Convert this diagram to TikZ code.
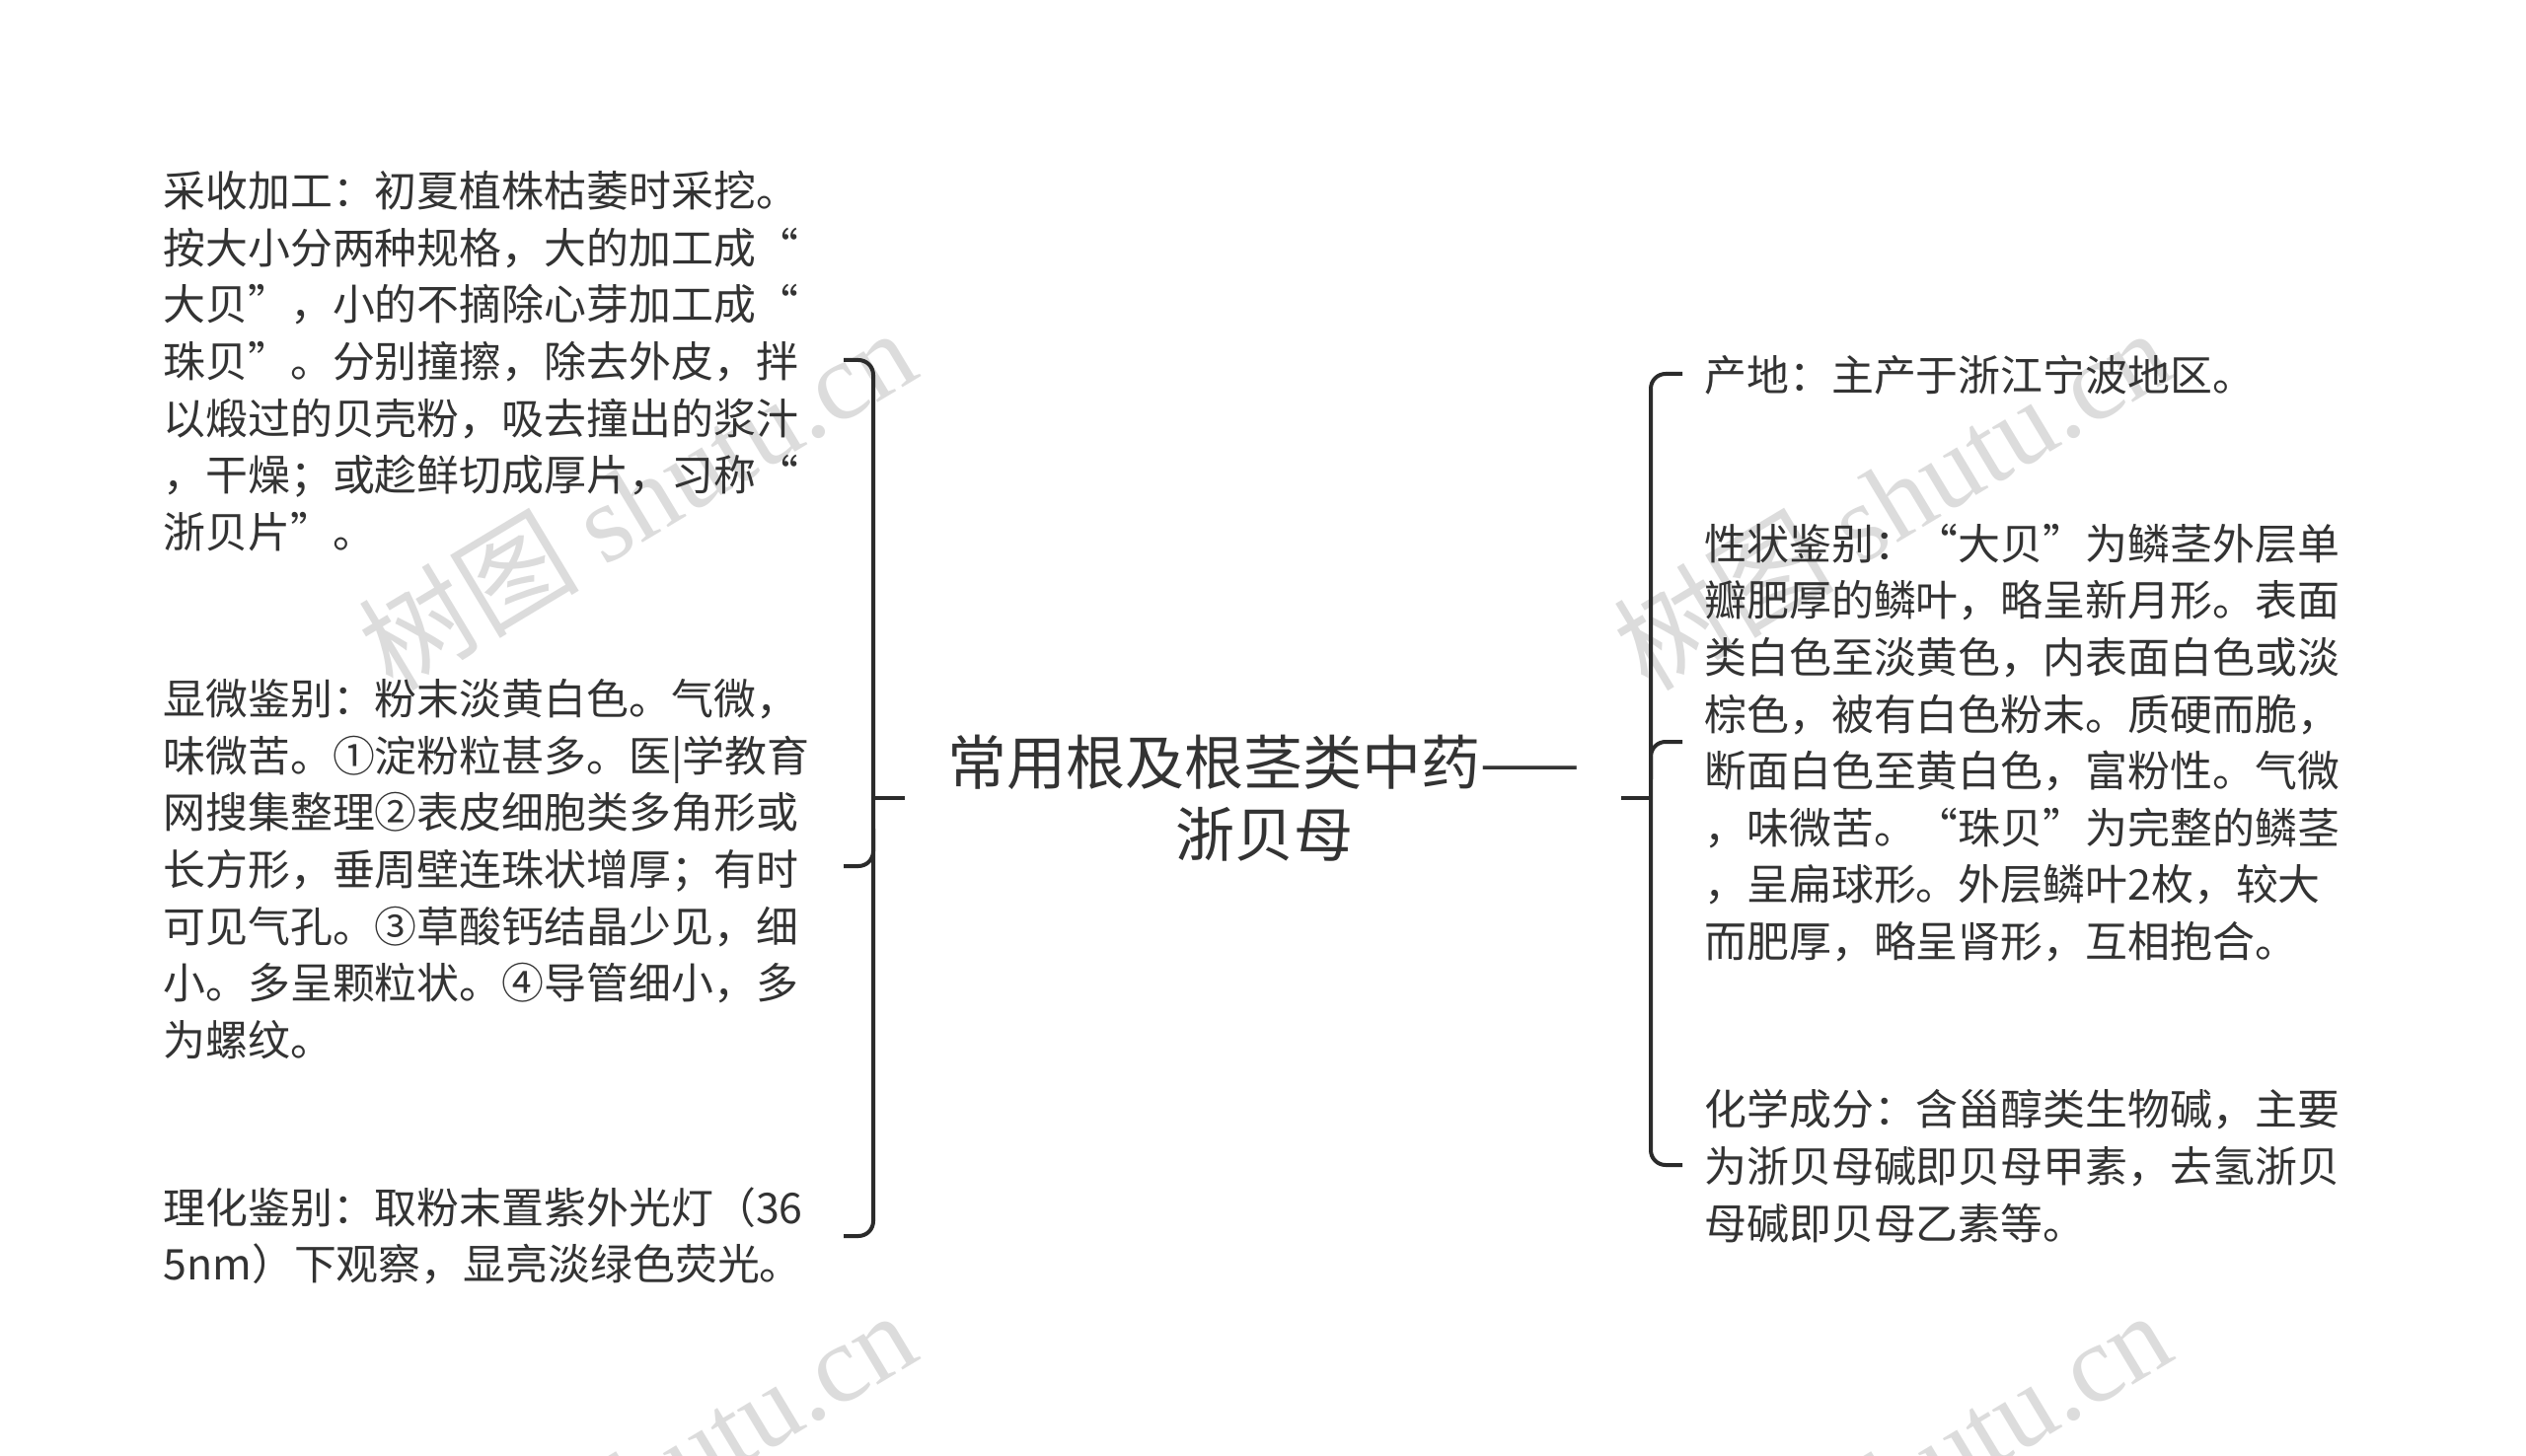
\documentclass[tikz,border=0pt]{standalone}
\usepackage{fontspec}
\setmainfont{Noto Sans CJK SC}
\newfontfamily\wmfont{Liberation Serif}
\newfontfamily\wmcjk{Noto Sans CJK SC}
\definecolor{txt}{HTML}{333333}
\definecolor{brc}{HTML}{2B2B2B}
\definecolor{wmc}{HTML}{DCDCDC}
\begin{document}
\begin{tikzpicture}[x=0.5pt,y=-0.5pt,
  tx/.style={anchor=west,inner sep=0pt,align=left,text=txt,font=\fontsize{21.45pt}{28.8pt}\selectfont},
  ttl/.style={inner sep=0pt,align=center,text=txt,font=\fontsize{30pt}{36.8pt}\selectfont},
  br/.style={draw=brc,line width=2pt,rounded corners=7.5pt},
  tick/.style={draw=brc,line width=2pt},
  wm/.style={text=wmc,inner sep=0pt,rotate=31,font=\fontsize{56pt}{60pt}\selectfont}]
\useasboundingbox (0,0) rectangle (2560,1476);
\clip (0,0) rectangle (2560,1476);
% watermarks
\node[wm] (w1) at (645,505) {{\wmcjk 树图} {\wmfont shutu.cn}};
\node[wm] (w2) at (1917,505) {{\wmcjk 树图} {\wmfont shutu.cn}};
\node[wm] (w3) at (645,1501) {{\wmcjk 树图} {\wmfont shutu.cn}};
\node[wm] (w4) at (1917,1501) {{\wmcjk 树图} {\wmfont shutu.cn}};
% title
\node[ttl] (T) at (1281,809) {常用根及根茎类中药——\\浙贝母};
% left texts
\node[tx] (L1) at (165,366) {采收加工：初夏植株枯萎时采挖。\\按大小分两种规格，大的加工成“\\大贝”，小的不摘除心芽加工成“\\珠贝”。分别撞擦，除去外皮，拌\\以煅过的贝壳粉，吸去撞出的浆汁\\，干燥；或趁鲜切成厚片，习称“\\浙贝片”。};
\node[tx] (L2) at (165,881) {显微鉴别：粉末淡黄白色。气微，\\味微苦。①淀粉粒甚多。医|学教育\\网搜集整理②表皮细胞类多角形或\\长方形，垂周壁连珠状增厚；有时\\可见气孔。③草酸钙结晶少见，细\\小。多呈颗粒状。④导管细小，多\\为螺纹。};
\node[tx] (L3) at (165,1253) {理化鉴别：取粉末置紫外光灯（36\\5nm）下观察，显亮淡绿色荧光。};
% right texts
\node[tx] (R1) at (1727,380) {产地：主产于浙江宁波地区。};
\node[tx] (R2) at (1727,753) {性状鉴别：“大贝”为鳞茎外层单\\瓣肥厚的鳞叶，略呈新月形。表面\\类白色至淡黄色，内表面白色或淡\\棕色，被有白色粉末。质硬而脆，\\断面白色至黄白色，富粉性。气微\\，味微苦。“珠贝”为完整的鳞茎\\，呈扁球形。外层鳞叶2枚，较大\\而肥厚，略呈肾形，互相抱合。};
\node[tx] (R3) at (1727,1182) {化学成分：含甾醇类生物碱，主要\\为浙贝母碱即贝母甲素，去氢浙贝\\母碱即贝母乙素等。};
% left bracket
\coordinate (la) at (855,365);
\coordinate (lb) at (855,878);
\coordinate (lc) at (855,1253);
\coordinate (lt0) at (885,809);
\coordinate (lt1) at (917,809);
\draw[br] (la) -- (885,365) -- (885,1253) -- (lc);
\draw[br] (lb) -- (885,878) -- (885,840);
\draw[tick] (lt0) -- (lt1);
% right bracket
\coordinate (ra) at (1705,379);
\coordinate (rb) at (1705,752);
\coordinate (rc) at (1705,1181);
\coordinate (rt0) at (1643,809);
\coordinate (rt1) at (1673,809);
\draw[br] (ra) -- (1673,379) -- (1673,1181) -- (rc);
\draw[br] (rb) -- (1673,752) -- (1673,790);
\draw[tick] (rt0) -- (rt1);
\end{tikzpicture}
\end{document}
